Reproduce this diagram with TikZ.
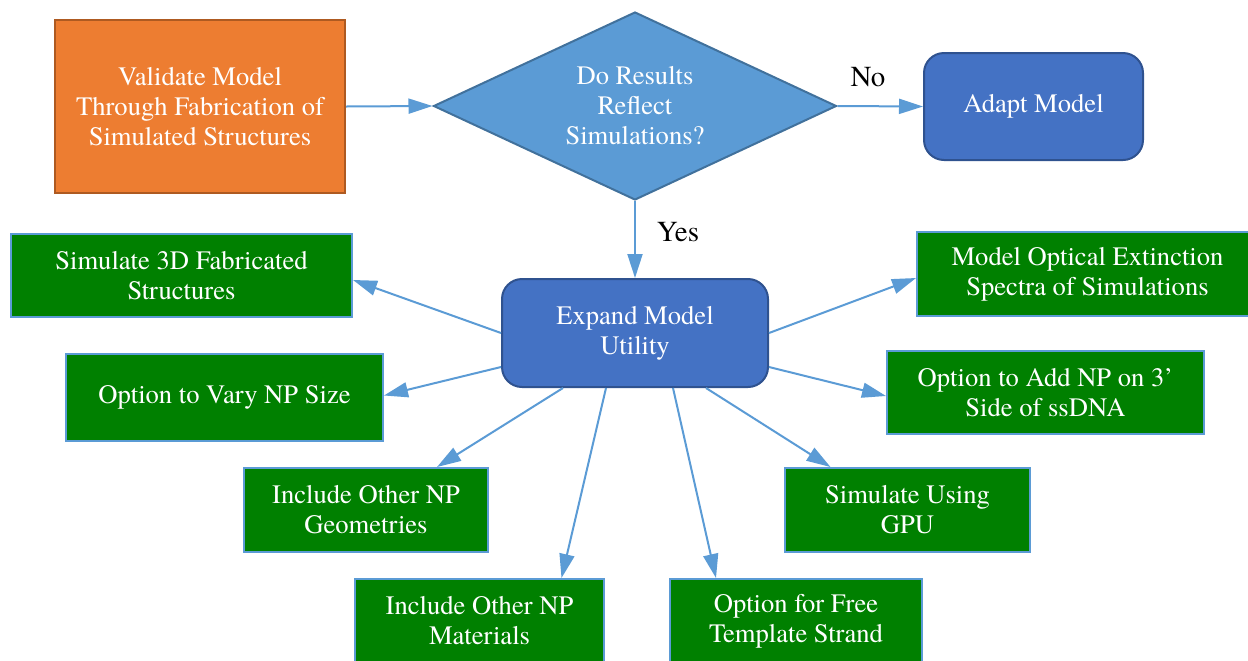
\documentclass[tikz,border=0pt]{standalone}
\usepackage{fontspec}
\setmainfont{TeX Gyre Termes}
\usetikzlibrary{arrows.meta,calc,shapes.geometric}

\definecolor{orangefill}{HTML}{ED7D31}
\definecolor{orangeline}{HTML}{AE5A21}
\definecolor{lightblue}{HTML}{5B9BD5}
\definecolor{darkline}{HTML}{41719C}
\definecolor{bluefill}{HTML}{4472C4}
\definecolor{blueline}{HTML}{2F528F}
\definecolor{boxgreen}{HTML}{008000}

\begin{document}
\begin{tikzpicture}[x=0.5pt, y=-0.5pt,
    txt/.style={text=white, align=center, inner sep=0pt, line width=1pt,
        font=\fontsize{13.3}{15}\selectfont},
    startbox/.style={txt, draw=orangeline, fill=orangefill},
    decision/.style={txt, diamond, draw=darkline, fill=lightblue, aspect=2.14},
    roundbox/.style={txt, draw=blueline, fill=bluefill, rounded corners=10pt},
    greenbox/.style={txt, draw=lightblue, fill=boxgreen},
    flow/.style={draw=lightblue, line width=1pt, -{Triangle[length=12pt,width=7.5pt]}},
    answer/.style={font=\fontsize{14.5}{16}\selectfont, inner sep=0pt}]

    \clip (0, 0) rectangle (1248, 660);

    % Top row
    \node[startbox, minimum width=145pt, minimum height=86.5pt] (validate) at (200, 106.5)
        {Validate Model\\Through Fabrication of\\Simulated Structures};
    \node[decision, minimum width=201.5pt, minimum height=94pt] (results) at (635, 106)
        {Do Results\\Reflect\\Simulations?};
    \node[roundbox, minimum width=109.5pt, minimum height=53.5pt] (adapt) at (1033.5, 106.5)
        {\raisebox{-1pt}{Adapt Model}};

    \draw[flow] (validate.east) -- (results.west);
    \draw[flow] (results.east) -- (adapt.west);
    \node[answer] (no) at (868, 77) {No};

    % Centre box
    \node[roundbox, minimum width=133pt, minimum height=54pt] (expand) at (635, 333)
        {\raisebox{-1pt}{Expand Model}\\\raisebox{-1pt}{Utility}};
    \draw[flow] (results.south) -- (expand.north);
    \node[answer] (yes) at (678, 232) {Yes};

    % Left side
    \node[greenbox, minimum width=170.5pt, minimum height=41.5pt] (sim3d) at (181.5, 275.5)
        {Simulate 3D Fabricated\\Structures};
    \node[greenbox, minimum width=158.5pt, minimum height=43.5pt] (npsize) at (224.5, 397.5)
        {Option to Vary NP Size};
    \node[greenbox, minimum width=122pt, minimum height=42pt] (geometry) at (366, 510)
        {Include Other NP\\Geometries};
    \node[greenbox, minimum width=124.5pt, minimum height=42pt] (material) at (479.5, 621)
        {Include Other NP\\Materials};

    % Right side
    \node[greenbox, minimum width=126pt, minimum height=42pt] (template) at (796, 621)
        {Option for Free\\Template Strand};
    \node[greenbox, minimum width=122.5pt, minimum height=42pt] (gpu) at (907.5, 510)
        {Simulate Using\\GPU};
    \node[greenbox, minimum width=158.5pt, minimum height=41.5pt] (addnp) at (1045.5, 392.5)
        {Option to Add NP on 3’\\Side of ssDNA};
    \node[greenbox, minimum width=170.5pt, minimum height=42pt] (optical) at (1087.5, 274)
        {Model Optical Extinction\\Spectra of Simulations};

    % Spokes out of the centre box
    \draw[flow] (expand.west) -- ($(sim3d.east) + (0, 4.5)$);
    \draw[flow] ($(expand.west) + (0, 34)$) -- ($(npsize.east) + (0, -2)$);
    \draw[flow] ($(expand.south) + (-72, 0)$) -- ($(geometry.north) + (71, 0)$);
    \draw[flow] ($(expand.south) + (-29, 0)$) -- ($(material.north) + (82, 0)$);
    \draw[flow] ($(expand.south) + (38, 0)$) -- ($(template.north) + (-80, 0)$);
    \draw[flow] ($(expand.south) + (71, 0)$) -- ($(gpu.north) + (-77, 0)$);
    \draw[flow] ($(expand.east) + (0, 34)$) -- ($(addnp.west) + (0, 3.5)$);
    \draw[flow] (expand.east) -- ($(optical.west) + (0, 4)$);
\end{tikzpicture}
\end{document}
